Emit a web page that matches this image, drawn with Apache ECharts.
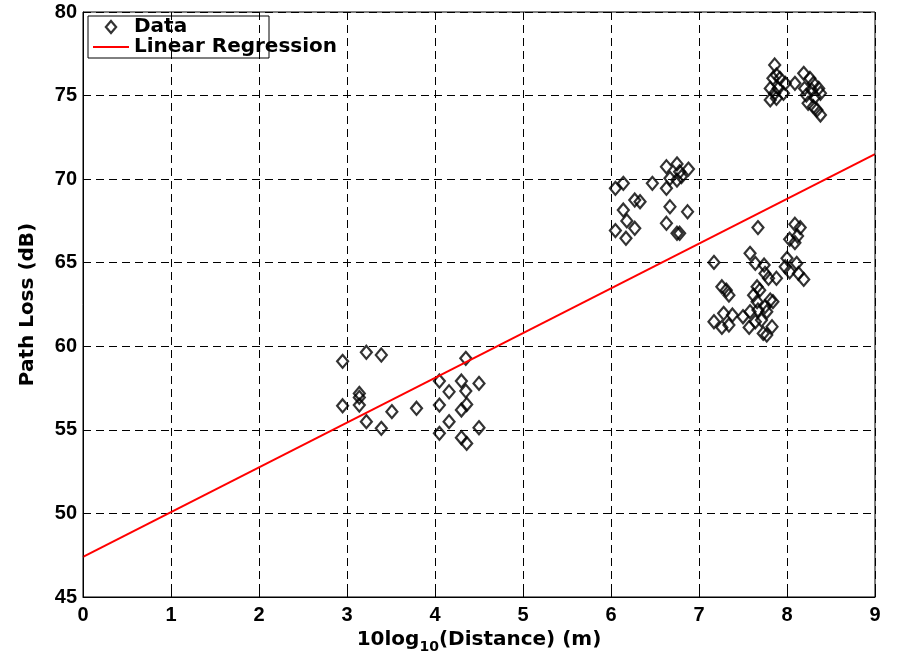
<!DOCTYPE html>
<html><head><meta charset="utf-8">
<script src="https://cdn.jsdelivr.net/npm/echarts@6/dist/echarts.min.js"></script>
<style>html,body{margin:0;padding:0;background:#fff}#c{width:897px;height:661px}</style>
</head><body><div id="c"></div>
<script>
const dataX = [
 2.95,3.22,3.39,4.35,3.14,3.14,3.14,2.95,4.05,4.30,4.50,4.16,4.35,4.05,4.36,4.30,3.51,3.79,3.22,3.39,4.16,4.05,4.50,4.30,4.36,
 6.63,6.75,6.88,6.78,6.80,6.75,6.67,6.47,6.63,6.05,6.14,6.27,6.33,6.67,6.87,6.14,6.18,6.27,6.05,6.17,6.63,6.75,6.78,
 7.17,7.58,7.64,7.74,7.75,7.79,7.88,8.00,7.98,8.11,8.13,8.19,8.03,7.26,7.31,7.34,7.66,7.69,7.62,7.81,7.84,7.66,7.67,7.75,7.77,7.28,7.38,7.50,7.17,7.26,7.34,7.57,7.64,7.83,7.73,7.77,7.71,7.58,
 7.67,8.09,8.15,8.03,8.09,8.12,
 7.86,7.88,7.92,7.84,7.98,7.81,7.90,7.86,7.96,7.81,7.88,8.09,8.19,8.26,8.30,8.20,8.28,8.36,8.38,8.22,8.32,8.24,8.30,8.34,8.38
];
const dataY = [
 59.1,59.64,59.48,59.28,57.18,56.94,56.48,56.44,57.92,57.92,57.78,57.28,57.32,56.48,56.52,56.19,56.09,56.29,55.49,55.09,55.49,54.79,55.13,54.53,54.19,
 70.74,70.91,70.6,70.44,70.15,69.95,70.05,69.75,69.45,69.45,69.75,68.75,68.65,68.35,68.05,68.15,67.5,67.06,66.92,66.46,67.36,66.76,66.76,
 65.02,65.56,64.96,64.86,64.36,64.07,64.07,65.26,64.76,64.96,64.36,64.0,64.46,63.56,63.36,63.06,63.56,63.36,63.06,62.77,62.67,62.67,62.17,62.37,62.07,61.97,61.87,61.77,61.47,61.13,61.27,61.13,61.47,61.17,60.77,60.67,61.57,62.07,
 67.1,67.3,67.1,66.4,66.2,66.6,
 76.83,76.23,76.03,76.03,75.73,75.43,75.43,75.14,75.14,74.74,74.84,75.73,76.33,76.03,75.73,75.43,75.33,75.43,75.14,75.03,74.93,74.54,74.33,74.14,73.84
];
const regX = [0, 9];
const regY = [47.4, 71.5];
const xTicks = [0,1,2,3,4,5,6,7,8,9];
const yTicks = [45,50,55,60,65,70,75,80];

const TICKFONT = '"Liberation Sans",Arial,sans-serif';
const TEXTFONT = '"DejaVu Sans",sans-serif';
const chart = echarts.init(document.getElementById('c'), null, {renderer:'canvas'});
const scatter = dataX.map((x,i)=>[x, dataY[i]]);
const reg = regX.map((x,i)=>[x, regY[i]]);
const dashed = {show:true, lineStyle:{color:'#000', type:[8,5], width:1}};
chart.setOption({
  animation:false,
  backgroundColor:'#fff',
  grid:{left:83,right:22,top:12,bottom:64,show:false},
  legend:{
    left:93, top:17, orient:'vertical', itemGap:0, padding:0,
    itemWidth:36, itemHeight:12, symbolKeepAspect:true,
    textStyle:{fontFamily:TEXTFONT, fontWeight:'bold', fontSize:20, color:'#000', lineHeight:20, padding:[0,0,0,0]},
    data:[
      {name:'Data', icon:'path://M6,0L12,7L6,14L0,7Z',
       itemStyle:{color:'rgba(0,0,0,0)', borderColor:'#000', borderWidth:2.2}},
      {name:'Linear Regression', icon:'path://M0,0H36V2H0Z',
       itemStyle:{color:'#ff0000', borderWidth:0}}
    ]
  },
  xAxis:{
    type:'value', min:0, max:9, interval:1,
    name:'{a|10log}{s|10}{a|(Distance) (m)}', nameLocation:'middle', nameGap:22,
    nameTextStyle:{rich:{
      a:{fontFamily:TEXTFONT, fontWeight:'bold', fontSize:20, color:'#000'},
      s:{fontFamily:TEXTFONT, fontWeight:'bold', fontSize:14, color:'#000', padding:[14,0,0,0]}
    }},
    axisLine:{show:true, onZero:false, lineStyle:{color:'#000', width:1}},
    axisTick:{show:true, inside:true, length:6, lineStyle:{color:'#000'}},
    axisLabel:{fontFamily:TICKFONT, fontWeight:'bold', fontSize:20, color:'#000', margin:8,
      formatter:v=>xTicks.includes(v)?String(v):''},
    splitLine:dashed
  },
  yAxis:{
    type:'value', min:45, max:80, interval:5,
    name:'Path Loss (dB)', nameLocation:'middle', nameGap:45, nameRotate:90,
    nameTextStyle:{fontFamily:TEXTFONT, fontWeight:'bold', fontSize:20, color:'#000'},
    axisLine:{show:true, onZero:false, lineStyle:{color:'#000', width:1}},
    axisTick:{show:true, inside:true, length:6, lineStyle:{color:'#000'}},
    axisLabel:{fontFamily:TICKFONT, fontWeight:'bold', fontSize:20, color:'#000', margin:6,
      formatter:v=>yTicks.includes(v)?String(v):''},
    splitLine:dashed
  },
  series:[
    {name:'Data', type:'scatter', data:scatter, symbol:'diamond', symbolSize:[11,13],
     itemStyle:{color:'rgba(0,0,0,0)', borderColor:'#000', borderWidth:2.2}, z:3},
    {name:'Linear Regression', type:'line', data:reg, showSymbol:false, symbol:'none',
     lineStyle:{color:'#ff0000', width:2}, itemStyle:{color:'#ff0000'}, z:4}
  ],
  graphic:[
    {type:'rect', shape:{x:83,y:12,width:792,height:585}, style:{fill:'none', stroke:'#000', lineWidth:1}, z:10, silent:true},
    {type:'rect', shape:{x:88,y:16,width:181,height:42}, style:{fill:'#fff', stroke:'#000', lineWidth:1}, z:0, zlevel:0, silent:true}
  ]
});
</script></body></html>
